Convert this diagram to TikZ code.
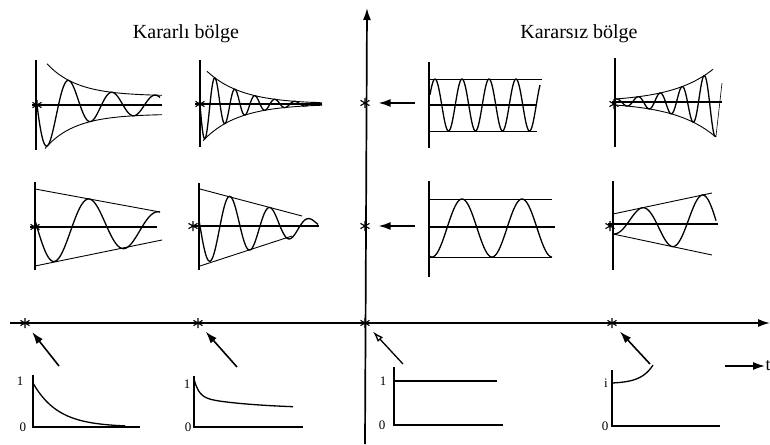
\documentclass[tikz,border=0pt]{standalone}
\usepackage{fontspec}
\setmainfont{Liberation Serif}
\usetikzlibrary{arrows.meta}

\begin{document}
\begin{tikzpicture}[x=1pt, y=-1pt, >={Latex[length=12pt,width=8pt]},
  line width=1.1pt, font=\fontsize{13}{15}\selectfont,
  mainaxis/.style={line width=1.7pt},
  wave/.style={line width=1.3pt, line join=round},
  hull/.style={line width=0.9pt},
  pointer/.style={->, line width=1.6pt},
  pole/.style={circle, inner sep=0pt, minimum size=14pt,
    path picture={\draw[line width=1.1pt,
      shift={(path picture bounding box.center)}]
      (-4.5,-2.6) -- (4.5,2.6) (-4.5,2.6) -- (4.5,-2.6) (0,-5) -- (0,5);}},
  title/.style={anchor=base, font=\fontsize{20}{24}\selectfont}]
  \useasboundingbox (0,0) rectangle (770,444);

  \node[title] (stable) at (186,38) {Kararlı bölge};
  \node[title] (unstable) at (579,38) {Kararsız bölge};

  % main axes
  \coordinate (hl) at (10,323);
  \coordinate (hr) at (770,323);
  \coordinate (vb) at (365,444);
  \coordinate (vt) at (367,8);
  \draw[mainaxis,->] (hl) -- (hr);
  \draw[mainaxis,->] (vb) -- (vt);

  % poles on the axes
  \node[pole] (r1) at (25,323) {};
  \node[pole] (r2) at (198,323) {};
  \node[pole] (r3) at (365,323) {};
  \node[pole] (r4) at (612,323) {};
  \node[pole] (i1) at (365,103) {};
  \node[pole] (i2) at (365,226) {};

  % top row
  \draw (36,60) -- (36,150);
  \draw (32,105) -- (162,105);
  \node[pole] (s1) at (37,105) {};
  \draw[hull] plot[domain=47:162, samples=80]
    (\x,{105-(9+45*exp(-(\x-37)/30))});
  \draw[hull] plot[domain=45:162, samples=80]
    (\x,{105+(9+45*exp(-(\x-37)/30))});
  \draw[wave] plot[domain=37:160, samples=200]
    (\x,{105+(9+45*exp(-(\x-37)/30))*sin((\x-37)/43*360)});

  \draw (200,60) -- (200,147);
  \draw (195,104) -- (322,104);
  \node[pole] (s2) at (200,104) {};
  \draw[hull] plot[domain=207:322, samples=80]
    (\x,{104-40*exp(-(\x-200)/35)});
  \draw[hull] plot[domain=203:322, samples=80]
    (\x,{104+40*exp(-(\x-200)/35)});
  \draw[wave] plot[domain=200:322, samples=260]
    (\x,{104+40*exp(-(\x-200)/35)*sin((\x-200)/20*360)});

  \draw (429,62) -- (429,148);
  \draw[hull] (429,79) -- (542,79);
  \draw (429,105) -- (537,105);
  \draw[hull] (429,131) -- (537,131);
  \draw[wave] plot[domain=430:540, samples=200]
    (\x,{105-26*cos((\x-435)/27*360)});
  \coordinate (a1) at (415,103);
  \draw[pointer, shorten >=6pt] (a1) -- (i1);

  \draw (615,58) -- (615,147);
  \draw (612,102) -- (722,102);
  \node[pole] (s4) at (614,104) {};
  \draw[hull] plot[domain=615:713, samples=80]
    (\x,{102-3*exp((\x-615)/41)});
  \draw[hull] plot[domain=615:715, samples=80]
    (\x,{102+3*exp((\x-615)/41)});
  \draw[wave] plot[domain=615:716, samples=220]
    (\x,{102-3*exp((\x-615)/41)*sin((\x-610.5)/22*360)});
  \draw[hull, line width=0.6pt] (716,136) -- (722,83);

  % middle row
  \draw (35,182) -- (35,270);
  \draw (30,227) -- (157,227);
  \node[pole] (s5) at (35,227) {};
  \draw[hull] (35,189) -- (160,212);
  \draw[hull] (35,266) -- (162,240);
  \draw[wave] plot[domain=35:160, samples=160]
    (\x,{227+(38-23*(\x-35)/125)*sin((\x-37)/70*360)});

  \draw (199,183) -- (199,270);
  \draw (193,226) -- (319,226);
  \node[pole] (s6) at (193,226) {};
  \draw[hull] (200,189) -- (302,216);
  \draw[hull] (200,266) -- (292,236);
  \draw[wave] plot[domain=199:318, samples=200]
    (\x,{226+max(38-28*(\x-200)/100,5)*sin((\x-200)/40*360)});

  \draw (429,181) -- (429,277);
  \draw[hull] (429,199) -- (552,199);
  \draw[mainaxis] (429,227) -- (555,227);
  \draw[hull] (429,257) -- (552,257);
  \draw[wave] plot[domain=429:552, samples=200]
    (\x,{228-29*cos((\x-462)/60*360)});
  \coordinate (a2) at (415,226);
  \draw[pointer, shorten >=6pt] (a2) -- (i2);

  \draw (613,181) -- (613,270);
  \draw (608,224) -- (718,224);
  \node[pole] (s8) at (610,226) {};
  \draw[hull] (613,214) -- (712,193);
  \draw[hull] (613,234) -- (712,255);
  \draw[wave] plot[domain=613:716, samples=180]
    (\x,{224-(10+21*(\x-613)/99)*sin((\x-627)/60*360)});

  % bottom row
  \draw (33,375) -- (33,427) -- (140,427);
  \node (one1) at (20,381) {1};
  \node (zero1) at (23,427) {0};
  \draw[wave] plot[domain=33:125, samples=100]
    (\x,{427-44*exp(-(\x-33)/25)});
  \coordinate (b1) at (59,366);
  \draw[pointer, shorten >=4pt] (b1) -- (r1);

  \draw (194,376) -- (194,427) -- (303,427);
  \node (one2) at (187,384) {1};
  \node (zero2) at (188,427) {0};
  \draw[wave] plot[domain=194:293, samples=120]
    (\x,{427-(18+12*exp(-(\x-194)/60)+18*exp(-(\x-194)/5))});
  \coordinate (b2) at (237,367);
  \draw[pointer, shorten >=4pt] (b2) -- (r2);

  \draw (394,367) -- (394,425) -- (503,425);
  \draw[wave] (394,381) -- (497,381);
  \node (one3) at (383,381) {1};
  \node (zero3) at (382,425) {0};
  \coordinate (b3) at (403,364);
  \draw[-{Latex[open,length=11pt,width=7pt]}, line width=1.3pt,
    shorten >=4pt] (b3) -- (r3);

  \draw (612,370) -- (612,426) -- (720,426);
  \node (one4) at (606,383) {i};
  \node (zero4) at (605,426) {0};
  \draw[wave] plot[domain=612:653, samples=60]
    (\x,{383-0.61*(exp((\x-612)/12)-1)});
  \coordinate (b4) at (650,364);
  \draw[pointer, shorten >=4pt] (b4) -- (r4);

  % time arrow
  \coordinate (ts) at (725,366);
  \node[anchor=west, inner sep=0pt, font=\fontsize{18}{18}\selectfont]
    (tlab) at (765,366) {t};
  \draw[pointer] (ts) -- (tlab.west);
\end{tikzpicture}
\end{document}
